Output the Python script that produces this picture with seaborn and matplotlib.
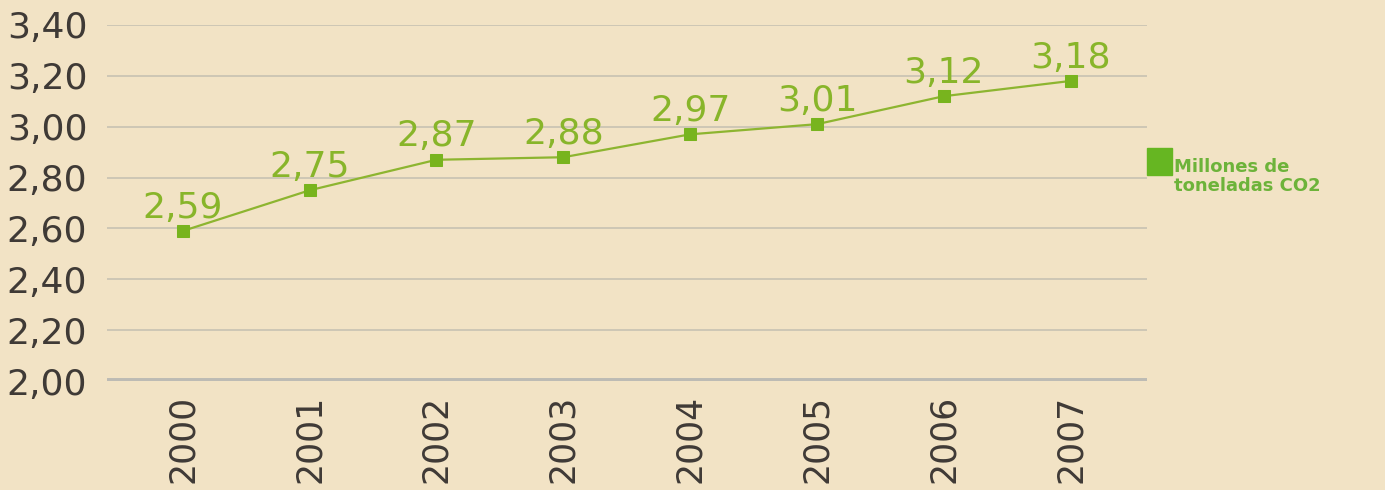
import matplotlib
matplotlib.use("Agg")
import matplotlib.pyplot as plt
import seaborn as sns
import pandas as pd

years = ["2000", "2001", "2002", "2003", "2004", "2005", "2006", "2007"]
co2 = [2.59, 2.75, 2.87, 2.88, 2.97, 3.01, 3.12, 3.18]
value_labels = ["2,59", "2,75", "2,87", "2,88", "2,97", "3,01", "3,12", "3,18"]
y_ticks = [2.0, 2.2, 2.4, 2.6, 2.8, 3.0, 3.2, 3.4]
legend_label = "Millones de\ntoneladas CO2"

bg = "#F2E3C5"
sns.set_theme(style="white")
plt.rcParams["font.family"] = ["DejaVu Sans"]

df = pd.DataFrame({"year": years, "co2": co2})
df["pos"] = range(len(df))

fig = plt.figure(figsize=(13.85, 4.9), dpi=100, facecolor=bg)
ax = fig.add_axes([0.077, 0.2224, 0.751, 0.7266])
ax.set_facecolor(bg)

for t in y_ticks[1:]:
    ax.axhline(t, color="#CBC4B4", lw=1.3, zorder=1)
ax.axhline(2.0, color="#BDBBB4", lw=5, zorder=1)

sns.lineplot(data=df, x="pos", y="co2", ax=ax, color="#8DB530", lw=1.6,
             marker="s", markersize=8.5, markerfacecolor="#78B41E",
             markeredgecolor="#78B41E", zorder=3)

for x, y, lab in zip(df["pos"], co2, value_labels):
    ax.text(x, y + 0.025, lab, ha="center", va="bottom", fontsize=26,
            color="#88B52A", zorder=4)

ax.set_xlim(-0.6, 7.6)
ax.set_ylim(2.0, 3.4)
ax.set_yticks(y_ticks)
ax.set_yticklabels([f"{t:.2f}".replace(".", ",") for t in y_ticks],
                   fontsize=26, color="#3F3A36")
ax.set_xticks(df["pos"])
ax.set_xticklabels(years, rotation=90, fontsize=25, color="#3F3A36")
ax.tick_params(axis="y", length=0, pad=14)
ax.tick_params(axis="x", length=0, pad=10)
ax.set_xlabel("")
ax.set_ylabel("")
for s in ax.spines.values():
    s.set_visible(False)

# legend
fig.patches.append(plt.Rectangle((1147 / 1385, 1 - 175 / 490), 25 / 1385, 27 / 490,
                                 transform=fig.transFigure, color="#66B622"))
fig.text(1174 / 1385, 1 - 158 / 490, legend_label, ha="left", va="top",
         fontsize=13, fontweight="bold", color="#6DB33A", linespacing=1.05)

fig.savefig("out.png", dpi=100, facecolor=bg)
